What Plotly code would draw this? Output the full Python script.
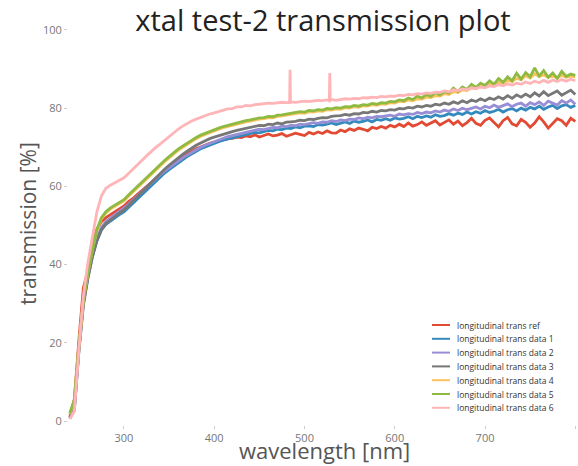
import plotly.graph_objects as go

# ---------------- data ----------------
wavelength = list(range(240, 805, 5))

series_names = [
    "longitudinal trans ref",
    "longitudinal trans data 1",
    "longitudinal trans data 2",
    "longitudinal trans data 3",
    "longitudinal trans data 4",
    "longitudinal trans data 5",
    "longitudinal trans data 6",
]
series_colors = ["#E24A33", "#348ABD", "#988ED5", "#777777", "#FBC15E", "#8EBA42", "#FFB5B8"]

trans_ref = [
    1.0, 5.5, 20.5, 34.0, 38.5, 45.0, 49.0, 51.0, 52.0, 52.8,
    53.5, 54.2, 55.0, 56.1, 56.9, 58.0, 59.0, 60.1, 61.0, 62.0,
    63.0, 64.1, 65.0, 66.0, 66.9, 67.6, 68.4, 69.0, 69.6, 70.1,
    70.5, 71.0, 71.3, 71.7, 71.9, 72.2, 72.3, 72.6, 72.5, 72.9,
    72.7, 73.2, 72.6, 73.0, 73.4, 72.9, 73.1, 73.5, 72.8, 73.2,
    73.6, 73.3, 73.0, 73.8, 73.4, 73.9, 73.5, 74.2, 73.7, 73.6,
    74.4, 74.0, 74.7, 74.3, 74.9, 74.6, 74.2, 75.1, 74.8, 75.3,
    74.9, 75.6, 75.2, 75.9, 75.3, 76.2, 75.4, 75.8, 76.5, 75.6,
    76.1, 76.8, 75.7, 76.4, 77.0, 75.9, 76.7, 75.5, 76.3, 77.4,
    76.1, 75.6, 76.9, 77.5, 76.3, 75.2, 76.8, 77.6, 76.0, 75.5,
    77.1, 76.4, 75.1, 76.2, 77.8, 76.5, 74.9, 76.0, 77.3, 76.8,
    75.6, 77.4, 76.6,
]
trans_data1 = [
    0.8, 3.0, 18.0, 30.0, 36.5, 42.0, 46.0, 48.8, 50.3, 51.2,
    52.0, 52.8, 53.5, 54.6, 55.7, 56.9, 58.0, 59.2, 60.3, 61.4,
    62.5, 63.4, 64.3, 65.2, 66.0, 66.8, 67.6, 68.3, 69.0, 69.6,
    70.1, 70.6, 71.0, 71.4, 71.8, 72.1, 72.5, 72.8, 73.0, 73.3,
    73.5, 73.8, 73.7, 74.1, 74.3, 74.2, 74.6, 74.5, 74.9, 74.8,
    75.2, 75.0, 75.4, 75.5, 75.3, 75.8, 75.7, 75.9, 76.2, 75.8,
    76.2, 76.5, 76.1, 76.7, 76.4, 76.6, 77.0, 76.5, 77.1, 76.9,
    77.3, 76.9, 77.5, 77.2, 77.4, 77.8, 77.3, 77.9, 77.6, 78.0,
    77.7, 78.3, 77.9, 78.1, 78.6, 78.2, 78.7, 78.4, 79.0, 78.5,
    79.1, 78.7, 79.4, 78.9, 79.2, 79.7, 79.0, 79.6, 79.9, 79.3,
    80.0, 79.5, 80.2, 79.8, 80.5, 79.7, 80.3, 80.7, 79.9, 80.6,
    80.9, 80.2, 80.7,
]
trans_data2 = [
    0.9, 3.2, 18.5, 30.5, 37.0, 42.5, 46.8, 49.5, 51.0, 52.0,
    52.8, 53.6, 54.4, 55.4, 56.5, 57.6, 58.7, 59.8, 60.9, 62.0,
    63.0, 63.9, 64.8, 65.7, 66.5, 67.3, 68.0, 68.7, 69.4, 70.0,
    70.5, 71.0, 71.5, 71.9, 72.3, 72.7, 73.0, 73.3, 73.6, 73.9,
    74.1, 74.3, 74.6, 74.5, 74.9, 75.1, 75.0, 75.4, 75.3, 75.6,
    75.5, 75.9, 75.8, 76.0, 76.3, 76.1, 76.5, 76.4, 76.8, 76.6,
    77.0, 76.8, 77.2, 77.1, 77.5, 77.3, 77.7, 77.5, 77.9, 77.8,
    78.0, 78.2, 77.9, 78.5, 78.3, 78.6, 78.4, 78.9, 78.6, 79.0,
    78.8, 79.3, 79.0, 79.5, 79.2, 79.8, 79.4, 80.0, 79.6, 79.9,
    80.3, 79.8, 80.5, 80.1, 80.8, 80.2, 80.6, 81.1, 80.4, 81.0,
    81.3, 80.5, 81.4, 80.9, 81.6, 80.7, 81.8, 81.2, 80.8, 81.9,
    81.3, 82.1, 81.0,
]
trans_data3 = [
    0.7, 2.8, 17.5, 29.5, 36.5, 42.0, 46.2, 49.0, 50.5, 51.5,
    52.3, 53.2, 54.0, 55.1, 56.2, 57.4, 58.6, 59.8, 61.0, 62.2,
    63.4, 64.4, 65.4, 66.4, 67.3, 68.2, 69.0, 69.8, 70.5, 71.1,
    71.7, 72.2, 72.6, 73.0, 73.3, 73.7, 74.0, 74.3, 74.6, 74.9,
    75.1, 75.3, 75.6, 75.5, 75.9, 75.8, 76.2, 76.0, 76.4, 76.5,
    76.6, 76.9, 76.8, 77.2, 77.1, 77.4, 77.6, 77.5, 77.9, 78.0,
    78.1, 78.4, 78.2, 78.6, 78.5, 78.9, 78.8, 79.2, 79.0, 79.4,
    79.3, 79.6, 79.5, 79.9, 79.8, 80.2, 80.0, 80.5, 80.3, 80.7,
    80.5, 81.0, 80.8, 81.3, 81.0, 81.6, 81.2, 81.9, 81.4, 82.1,
    81.7, 82.4, 81.9, 82.6, 82.2, 82.9, 82.3, 83.2, 82.5, 83.4,
    82.8, 83.6, 82.9, 83.9, 83.1, 84.2, 83.2, 83.8, 84.4, 83.3,
    84.0, 84.6, 83.5,
]
trans_data4 = [
    1.8, 5.2, 18.8, 30.8, 37.8, 43.8, 48.7, 51.7, 53.2, 54.2,
    54.9, 55.6, 56.3, 57.5, 58.6, 59.8, 60.9, 62.1, 63.1, 64.2,
    65.2, 66.3, 67.3, 68.3, 69.2, 70.0, 70.8, 71.5, 72.2, 72.8,
    73.3, 73.8, 74.2, 74.6, 75.0, 75.3, 75.7, 76.0, 76.2, 76.5,
    76.7, 77.0, 77.2, 77.3, 77.6, 77.5, 77.9, 78.0, 78.2, 78.4,
    78.5, 78.8, 78.7, 79.1, 79.0, 79.3, 79.2, 79.6, 79.5, 79.8,
    79.7, 80.1, 80.0, 80.4, 80.2, 80.6, 80.5, 80.9, 80.7, 81.1,
    81.0, 81.4, 81.3, 81.8, 81.6, 82.1, 81.9, 82.4, 82.3, 82.8,
    82.7, 83.2, 83.1, 83.7, 83.5, 84.2, 84.0, 84.7, 84.5, 85.2,
    85.0, 85.6, 85.5, 86.1, 85.9, 86.6, 86.2, 87.1, 86.8, 87.6,
    87.3, 88.3, 87.7, 88.8, 88.1, 88.5, 87.9, 88.2, 87.7, 88.4,
    87.9, 88.2, 88.0,
]
trans_data5 = [
    2.0, 5.5, 19.0, 31.0, 38.0, 44.0, 49.0, 52.0, 53.5, 54.5,
    55.2, 55.9, 56.6, 57.8, 58.9, 60.1, 61.2, 62.4, 63.4, 64.5,
    65.5, 66.6, 67.6, 68.6, 69.5, 70.3, 71.1, 71.8, 72.5, 73.1,
    73.6, 74.1, 74.5, 74.9, 75.3, 75.6, 76.0, 76.3, 76.5, 76.8,
    77.0, 77.3, 77.5, 77.6, 77.9, 77.8, 78.2, 78.3, 78.5, 78.7,
    78.8, 79.1, 79.0, 79.4, 79.3, 79.6, 79.5, 79.9, 79.8, 80.1,
    80.0, 80.4, 80.3, 80.7, 80.5, 80.9, 80.8, 81.2, 81.0, 81.4,
    81.3, 81.7, 81.6, 82.1, 81.9, 82.6, 82.2, 83.1, 82.6, 83.5,
    83.0, 84.0, 83.4, 84.2, 83.9, 85.1, 84.3, 85.4, 84.8, 86.1,
    85.3, 86.4, 85.8, 87.0, 86.1, 87.6, 86.6, 88.0, 87.0, 88.9,
    87.4, 89.1, 88.0, 90.3, 88.2, 89.6, 87.9, 89.0, 87.6, 89.4,
    88.1, 88.7, 88.4,
]
trans_data6 = [
    0.5, 2.5, 18.0, 32.0, 40.5, 47.5, 53.5, 57.5, 59.5, 60.3,
    61.0, 61.6, 62.2, 63.3, 64.5, 65.6, 66.7, 67.8, 68.9, 69.9,
    70.8, 71.8, 72.8, 73.7, 74.6, 75.4, 76.1, 76.7, 77.2, 77.7,
    78.1, 78.5, 78.8, 79.2, 79.4, 79.8, 79.9, 80.3, 80.3, 80.7,
    80.6, 80.9, 81.0, 81.1, 81.3, 81.2, 81.4, 81.5, 81.4, 81.6,
    81.5, 81.7, 81.8, 81.7, 81.9, 82.0, 81.9, 82.1, 82.2, 82.0,
    82.2, 82.4, 82.3, 82.5, 82.4, 82.7, 82.6, 82.8, 82.7, 83.0,
    82.9, 83.1, 83.0, 83.3, 83.2, 83.5, 83.4, 83.7, 83.6, 83.9,
    83.8, 84.1, 84.0, 84.4, 84.2, 84.7, 84.5, 84.9, 84.7, 85.2,
    85.0, 85.4, 85.2, 85.7, 85.5, 86.0, 85.7, 86.2, 85.9, 86.4,
    86.1, 86.7, 86.3, 86.9, 86.5, 87.1, 86.6, 87.2, 86.8, 87.3,
    86.9, 87.4, 87.0,
]
# narrow spikes visible on data 6
spike6_wl = [483.5, 484.0, 484.5, 527.5, 528.0, 528.5]
spike6_val = [81.4, 89.8, 81.5, 81.9, 89.0, 82.0]

x_ticks = [300, 400, 500, 600, 700, 800]
y_ticks = [0, 20, 40, 60, 80, 100]

# ---------------- figure ----------------
all_series = [trans_ref, trans_data1, trans_data2, trans_data3,
              trans_data4, trans_data5, trans_data6]

fig = go.Figure()
for i, (name, color, vals) in enumerate(zip(series_names, series_colors, all_series)):
    xs, ys = list(wavelength), list(vals)
    if i == 6:
        pts = sorted(list(zip(xs, ys)) + list(zip(spike6_wl, spike6_val)))
        xs = [p[0] for p in pts]
        ys = [p[1] for p in pts]
    fig.add_trace(go.Scatter(x=xs, y=ys, mode="lines", name=name,
                             line=dict(color=color, width=2.8),
                             showlegend=False))

# plot area geometry (pixels)
W, H = 578, 466
L, R, T, B = 68, 0, 26, 41
pw, ph = W - L - R, H - T - B

def px_to_paper(px, py):
    return (px - L) / pw, (H - B - py) / ph

# compact legend (bottom right)
leg_y0 = 325
leg_dy = 13.8
for i, (name, color) in enumerate(zip(series_names, series_colors)):
    py = leg_y0 + i * leg_dy
    x0, y0 = px_to_paper(432, py)
    x1, _ = px_to_paper(450, py)
    xt, _ = px_to_paper(455, py)
    fig.add_shape(type="line", xref="paper", yref="paper",
                  x0=x0, x1=x1, y0=y0, y1=y0,
                  line=dict(color=color, width=2))
    fig.add_annotation(xref="paper", yref="paper", x=xt, y=y0,
                       text=name, showarrow=False, xanchor="left", yanchor="middle",
                       font=dict(family="Open Sans", size=8.5, color="#333333"))

# axis titles
xt_x, xt_y = px_to_paper(324, 450)
fig.add_annotation(xref="paper", yref="paper", x=xt_x, y=xt_y,
                   text="wavelength [nm]", showarrow=False,
                   xanchor="center", yanchor="middle",
                   font=dict(family="Open Sans", size=22, color="#555555"))
yt_x, yt_y = px_to_paper(28, 224)
fig.add_annotation(xref="paper", yref="paper", x=yt_x, y=yt_y,
                   text="transmission [%]", showarrow=False, textangle=-90,
                   xanchor="center", yanchor="middle",
                   font=dict(family="Open Sans", size=21, color="#555555"))

fig.update_layout(
    width=W, height=H,
    margin=dict(l=L, r=R, t=T, b=B, autoexpand=False),
    paper_bgcolor="white", plot_bgcolor="white",
    title=dict(text="xtal test-2 transmission plot", x=323 / W, y=1 - 21 / H,
               xref="container", yref="container",
               xanchor="center", yanchor="middle",
               font=dict(family="Open Sans", size=29, color="#222222")),
    showlegend=False,
)
fig.update_xaxes(range=[238, 803], tickvals=x_ticks, showgrid=False, zeroline=False,
                 showline=False, ticks="outside", ticklen=3, tickcolor="#cccccc",
                 tickfont=dict(family="Open Sans", size=11, color="#777777"))
fig.update_yaxes(range=[-1, 101], tickvals=y_ticks, showgrid=False, zeroline=False,
                 showline=False, ticks="outside", ticklen=3, tickcolor="#cccccc",
                 tickfont=dict(family="Open Sans", size=11, color="#777777"))

fig.write_html("out.html")
